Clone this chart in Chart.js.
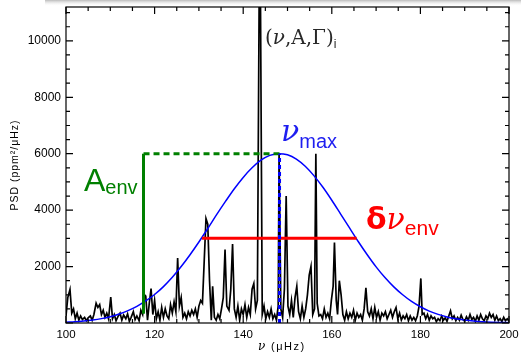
<!DOCTYPE html>
<html>
<head>
<meta charset="utf-8">
<script src="https://cdn.jsdelivr.net/npm/chart.js@4.4.0/dist/chart.umd.min.js"></script>
<style>
  html, body { margin: 0; padding: 0; background: #fff; }
</style>
</head>
<body>
<canvas id="graficoPSD" width="521" height="355"></canvas>
<script>
// Espectro observado (frecuencia en microHz, PSD en ppm^2/microHz)
const frecuencias = [
  100.0, 100.4, 100.9, 101.3, 101.7, 102.1, 102.5, 102.9, 103.3, 103.7, 104.2, 104.6, 105.0, 105.5, 105.9,
  106.3, 106.8, 107.2, 107.6, 108.0, 108.4, 108.8, 109.2, 109.6, 110.1, 110.5, 110.9, 111.3, 111.8, 112.2,
  112.6, 113.0, 113.5, 113.9, 114.3, 114.7, 115.2, 115.6, 116.0, 116.5, 116.9, 117.3, 117.7, 118.0, 118.4,
  118.8, 119.2, 119.6, 120.0, 120.4, 120.8, 121.2, 121.6, 122.0, 122.4, 122.8, 123.2, 123.6, 124.0, 124.4,
  124.8, 125.2, 125.6, 126.0, 126.4, 126.8, 127.2, 127.6, 128.0, 128.4, 128.8, 129.2, 129.6, 130.0, 130.4,
  130.8, 131.2, 131.6, 132.0, 132.4, 132.8, 133.1, 133.5, 133.9, 134.3, 134.7, 135.1, 135.5, 135.9, 136.3,
  136.8, 137.2, 137.6, 138.0, 138.4, 138.8, 139.2, 139.6, 140.0, 140.4, 140.8, 141.2, 141.6, 142.0, 142.4,
  142.8, 143.2, 143.6, 143.9, 144.3, 144.7, 145.1, 145.5, 145.9, 146.3, 146.7, 147.1, 147.5, 147.9, 148.1,
  148.5, 148.9, 149.3, 149.7, 150.1, 150.5, 150.9, 151.3, 151.7, 152.1, 152.5, 152.9, 153.3, 153.7, 154.1,
  154.5, 154.9, 155.3, 155.7, 156.1, 156.4, 156.7, 157.1, 157.5, 157.9, 158.3, 158.7, 159.1, 159.5, 159.9,
  160.3, 160.6, 161.0, 161.3, 161.7, 162.1, 162.5, 162.9, 163.3, 163.7, 164.1, 164.5, 164.9, 165.3, 165.7,
  166.1, 166.5, 166.9, 167.3, 167.7, 168.1, 168.5, 168.9, 169.3, 169.7, 170.1, 170.5, 170.9, 171.3, 171.7,
  172.1, 172.5, 172.9, 173.3, 173.7, 174.1, 174.5, 174.9, 175.3, 175.7, 176.1, 176.5, 176.9, 177.3, 177.7,
  178.1, 178.5, 178.9, 179.3, 179.7, 180.1, 180.4, 180.8, 181.2, 181.6, 182.0, 182.4, 182.8, 183.2, 183.6,
  184.0, 184.4, 184.8, 185.2, 185.6, 186.0, 186.4, 186.8, 187.2, 187.6, 188.0, 188.4, 188.8, 189.2, 189.6,
  190.0, 190.4, 190.8, 191.2, 191.6, 192.0, 192.4, 192.8, 193.2, 193.6, 194.0, 194.4, 194.8, 195.2, 195.6,
  196.0, 196.4, 196.8, 197.2, 197.6, 198.0, 198.4, 198.8, 199.2, 199.6, 200.0
];
const psd = [
  250, 900, 1190, 350, 500, 150, 350, 100, 250, 120, 200, 80, 180, 250, 100,
  300, 700, 550, 650, 300, 450, 200, 350, 150, 920, 150, 300, 80, 250, 350,
  100, 280, 150, 320, 60, 200, 400, 120, 250, 80, 450, 300, 1000, 950, 100,
  700, 1220, 300, 800, 150, 400, 100, 550, 200, 500, 250, 150, 650, 350, 750,
  400, 2300, 600, 900, 200, 350, 150, 400, 250, 450, 300, 500, 200, 600, 800,
  700, 2200, 3700, 3500, 1500, 100, 1300, 200, 100, 300, 150, 500, 900, 2600, 600,
  450, 1200, 2800, 500, 200, 600, 100, 500, 300, 650, 200, 550, 300, 1200, 1400,
  500, 800, 11500, 11500, 300, 600, 150, 400, 200, 500, 150, 300, 100, 600, 6000,
  500, 200, 1200, 4500, 600, 300, 800, 200, 900, 1300, 400, 150, 600, 200, 500,
  1000, 1700, 2000, 300, 500, 6000, 700, 250, 300, 150, 500, 200, 350, 150, 800,
  1300, 2850, 800, 300, 1500, 1000, 300, 100, 400, 150, 350, 200, 450, 100, 350,
  200, 300, 100, 500, 1250, 400, 250, 500, 150, 550, 200, 400, 100, 350, 250,
  400, 150, 300, 450, 200, 400, 550, 150, 350, 100, 250, 150, 300, 80, 250,
  100, 200, 80, 250, 600, 1580, 300, 350, 150, 300, 100, 250, 150, 200, 50,
  150, 80, 250, 100, 180, 60, 250, 430, 150, 250, 80, 200, 100, 280, 120,
  60, 220, 100, 300, 120, 200, 60, 250, 100, 300, 150, 80, 250, 150, 350,
  200, 300, 100, 250, 80, 150, 50, 200, 80, 150, 60
];

// Envolvente (curva azul)
const frecEnvolvente = [
  100, 102, 104, 106, 108, 110, 112, 114, 116, 118, 120, 122, 124, 126, 128, 130, 132, 134, 136, 138, 140,
  142, 144, 146, 148, 150, 152, 154, 156, 158, 160, 162, 164, 166, 168, 170, 172, 174, 176, 178, 180,
  182, 184, 186, 188, 190, 192, 194, 196, 198, 200
];
const psdEnvolvente = [
  30, 45, 70, 105, 155, 225, 320, 440, 590, 780, 1010, 1290, 1620, 2000, 2420, 2870, 3350, 3840, 4310, 4760, 5160,
  5500, 5770, 5940, 6000, 5960, 5810, 5555, 5215, 4810, 4350, 3860, 3370, 2880, 2420, 1990, 1610, 1280, 1000, 765, 575,
  420, 305, 215, 150, 105, 70, 45, 30, 20, 12
];

// Marcas de referencia
const numax = 148.2;
const amplitudEnv = 6000;
const frecAenv = 117.5;
const baseAenv = 330;
const anchoEnv = [130.7, 165.6];
const nivelAnchoEnv = 3000;

const ticksX = [100, 120, 140, 160, 180, 200];
const ticksY = [2000, 4000, 6000, 8000, 10000];

function Pares(xs, ys) {
  return xs.map((v, i) => ({ x: v, y: ys[i] }));
}

// Sombra suave del borde superior
const sombra = {
  id: 'sombra',
  beforeDraw(chart) {
    const ctx = chart.ctx;
    ctx.save();
    let g = ctx.createLinearGradient(0, 0, 0, 6);
    g.addColorStop(0, 'rgba(170,170,170,0.8)');
    g.addColorStop(1, 'rgba(255,255,255,0)');
    ctx.fillStyle = g;
    ctx.fillRect(45, 0, 476, 6);
    ctx.restore();
  }
};

// Marco y marcas hacia adentro en los cuatro lados
const marco = {
  id: 'marco',
  afterDraw(chart) {
    const { ctx, chartArea: a, scales: { x, y } } = chart;
    ctx.save();
    ctx.strokeStyle = '#000';
    ctx.lineWidth = 1.2;
    ctx.strokeRect(a.left, a.top, a.right - a.left, a.bottom - a.top);
    ctx.beginPath();
    for (let v = 100; v <= 200; v += 5) {
      let px = x.getPixelForValue(v);
      let largo = v % 20 === 0 ? 7 : 4;
      ctx.moveTo(px, a.bottom); ctx.lineTo(px, a.bottom - largo);
      ctx.moveTo(px, a.top); ctx.lineTo(px, a.top + largo);
    }
    for (let v = 0; v <= 11000; v += 500) {
      let py = y.getPixelForValue(v);
      let largo = v % 2000 === 0 ? 7 : 4;
      ctx.moveTo(a.left, py); ctx.lineTo(a.left + largo, py);
      ctx.moveTo(a.right, py); ctx.lineTo(a.right - largo, py);
    }
    ctx.stroke();

    // Titulos de los ejes
    ctx.fillStyle = '#000';
    ctx.letterSpacing = '1px';
    ctx.font = '10.5px "Liberation Sans", Arial, sans-serif';
    ctx.save();
    ctx.translate(15, (a.top + a.bottom) / 2);
    ctx.rotate(-Math.PI / 2);
    ctx.textAlign = 'center';
    ctx.textBaseline = 'middle';
    ctx.fillText('PSD (ppm\u00B2/\u03BCHz)', 0, 0);
    ctx.restore();

    ctx.textBaseline = 'alphabetic';
    ctx.textAlign = 'left';
    ctx.font = 'italic 12px "DejaVu Serif", serif';
    ctx.fillText('\u03BD', 258, 350);
    ctx.letterSpacing = '1.5px';
    ctx.font = '11px "Liberation Sans", Arial, sans-serif';
    ctx.fillText('(\u03BCHz)', 271, 350);
    ctx.restore();
  }
};

function Escribir(ctx, partes, x0, y0, color) {
  let xx = x0;
  ctx.fillStyle = color;
  partes.forEach(p => {
    ctx.font = p.font;
    ctx.fillText(p.t, xx, y0 + (p.dy || 0));
    xx += ctx.measureText(p.t).width;
  });
}

// Textos sobre el grafico
const textos = {
  id: 'textos',
  afterDatasetsDraw(chart) {
    const ctx = chart.ctx;
    ctx.save();
    ctx.textBaseline = 'alphabetic';
    ctx.textAlign = 'left';
    Escribir(ctx, [
      { t: '(', font: '20px "DejaVu Serif", serif' },
      { t: '\u03BD', font: 'italic 20px "DejaVu Serif", serif' },
      { t: ',A,\u0393)', font: '20px "DejaVu Serif", serif' },
      { t: 'i', font: '12px "Liberation Sans", sans-serif', dy: 4 }
    ], 265, 44, 'rgb(40,40,40)');

    Escribir(ctx, [
      { t: '\u03BD', font: 'italic 30px "DejaVu Serif", serif' },
      { t: 'max', font: '20px "Liberation Sans", sans-serif', dy: 7 }
    ], 281, 141, 'rgb(30,30,240)');

    Escribir(ctx, [
      { t: 'A', font: '32px "Liberation Sans", sans-serif' },
      { t: 'env', font: '20px "Liberation Sans", sans-serif', dy: 3 }
    ], 84, 191, 'rgb(0,128,0)');

    Escribir(ctx, [
      { t: '\u03B4', font: 'bold 30px "DejaVu Sans", sans-serif' },
      { t: '\u03BD', font: 'italic 30px "DejaVu Serif", serif' },
      { t: 'env', font: '21px "Liberation Sans", sans-serif', dy: 6 }
    ], 366, 229, 'rgb(255,0,0)');
    ctx.restore();
  }
};

new Chart(document.getElementById('graficoPSD'), {
  type: 'line',
  data: {
    datasets: [
      {
        // numax (linea punteada azul)
        data: [{ x: numax, y: 0 }, { x: numax, y: amplitudEnv }],
        borderColor: 'rgb(0,0,255)',
        borderWidth: 3,
        borderDash: [4, 3],
        pointRadius: 0,
      },
      {
        // ancho de la envolvente
        data: [{ x: anchoEnv[0], y: nivelAnchoEnv }, { x: anchoEnv[1], y: nivelAnchoEnv }],
        borderColor: 'rgb(255,0,0)',
        borderWidth: 3,
        pointRadius: 0,
      },
      {
        // amplitud de la envolvente
        data: [{ x: frecAenv, y: baseAenv }, { x: frecAenv, y: amplitudEnv }],
        borderColor: 'rgb(0,128,0)',
        borderWidth: 3,
        pointRadius: 0,
      },
      {
        data: [{ x: frecAenv, y: amplitudEnv }, { x: numax, y: amplitudEnv }],
        borderColor: 'rgb(0,128,0)',
        borderWidth: 3,
        borderDash: [6, 4],
        pointRadius: 0,
      },
      {
        // envolvente gaussiana
        data: Pares(frecEnvolvente, psdEnvolvente),
        borderColor: 'rgb(0,0,255)',
        borderWidth: 1.5,
        cubicInterpolationMode: 'monotone',
        pointRadius: 0,
      },
      {
        // espectro
        data: Pares(frecuencias, psd),
        borderColor: '#000',
        borderWidth: 1.7,
        pointRadius: 0,
      }
    ]
  },
  options: {
    responsive: false,
    animation: false,
    devicePixelRatio: 1,
    layout: { padding: { left: 0, right: 12, top: 7, bottom: 0 } },
    plugins: {
      legend: { display: false },
      tooltip: { enabled: false }
    },
    scales: {
      x: {
        type: 'linear',
        min: 100,
        max: 200,
        afterFit: function (scale) {
          scale.height = 32;
          scale.paddingLeft = 0;
          scale.paddingRight = 0;
        },
        afterBuildTicks: function (scale) { scale.ticks = ticksX.map(v => ({ value: v })); },
        grid: { display: false, drawTicks: false },
        border: { display: false },
        ticks: {
          padding: 5,
          color: '#000',
          maxRotation: 0,
          font: { family: '"Liberation Sans", Arial, sans-serif', size: 11.5 },
          callback: function (v) { return String(v); }
        }
      },
      y: {
        type: 'linear',
        min: 0,
        max: 11200,
        afterFit: function (scale) {
          scale.width = 66;
          scale.paddingTop = 0;
          scale.paddingBottom = 0;
        },
        afterBuildTicks: function (scale) { scale.ticks = ticksY.map(v => ({ value: v })); },
        grid: { display: false, drawTicks: false },
        border: { display: false },
        ticks: {
          padding: 5,
          color: '#000',
          font: { family: '"Liberation Sans", Arial, sans-serif', size: 12 },
          callback: function (v) { return String(v); }
        }
      }
    }
  },
  plugins: [sombra, marco, textos]
});
</script>
</body>
</html>
